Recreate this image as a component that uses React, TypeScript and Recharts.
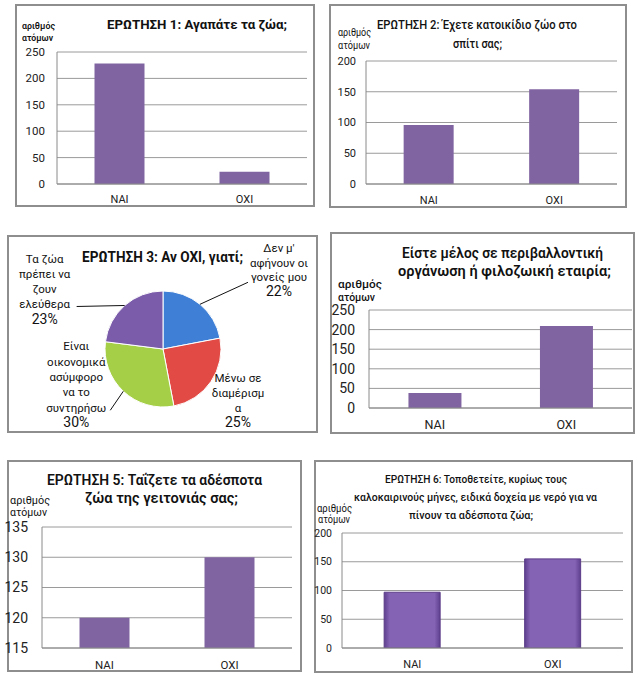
import React from 'react';
import { BarChart, Bar, XAxis, YAxis, CartesianGrid, PieChart, Pie, Cell } from 'recharts';

const FONT = "Roboto, 'Noto Sans', sans-serif";

// ---------- data ----------
const categories = ['ΝΑΙ', 'ΟΧΙ'];
const q1Values = [228, 23];
const q2Values = [96, 154];
const q4Values = [38, 209];
const q5Values = [120, 130];
const q6Values = [97, 155];

const ticks0to250 = [0, 50, 100, 150, 200, 250];
const ticks0to200 = [0, 50, 100, 150, 200];
const ticks115to135 = [115, 120, 125, 130, 135];

const q3Reasons = [
  "Δεν μ' αφήνουν οι γονείς μου",
  'Μένω σε διαμέρισμα',
  'Είναι οικονομικά ασύμφορο να το συντηρήσω',
  'Τα ζώα πρέπει να ζουν ελεύθερα',
];
const q3Percents = [22, 25, 30, 23];
const q3LabelLines = [
  ["Δεν μ'", 'αφήνουν οι', 'γονείς μου'],
  ['Μένω σε', 'διαμέρισμ', 'α'],
  ['Είναι', 'οικονομικά', 'ασύμφορο', 'να το', 'συντηρήσω'],
  ['Τα ζώα', 'πρέπει να', 'ζουν', 'ελεύθερα'],
];
const q3Colors = ['#3f80d6', '#e24a45', '#a6cf48', '#7b5cab'];

const yLabelLines = ['αριθμός', 'ατόμων'];
const title1 = ['ΕΡΩΤΗΣΗ 1: Αγαπάτε τα ζώα;'];
const title2 = ['ΕΡΩΤΗΣΗ 2: Έχετε κατοικίδιο ζώο στο', 'σπίτι σας;'];
const title3 = ['ΕΡΩΤΗΣΗ 3: Αν ΟΧΙ, γιατί;'];
const title4 = ['Είστε μέλος σε περιβαλλοντική', 'οργάνωση ή φιλοζωική εταιρία;'];
const title5 = ['ΕΡΩΤΗΣΗ 5: Ταΐζετε τα αδέσποτα', 'ζώα της γειτονιάς σας;'];
const title6 = [
  'ΕΡΩΤΗΣΗ 6: Τοποθετείτε, κυρίως τους',
  'καλοκαιρινούς μήνες, ειδικά δοχεία με νερό για να',
  'πίνουν τα αδέσποτα ζώα;',
];

// ---------- layout ----------
type Box = { x: number; y: number; w: number; h: number };
type Plot = { l: number; t: number; r: number; b: number };

const BORDER = '2px solid #8e8e8e';
const BAR = '#8064a2';

function Frame({ box }: { box: Box }) {
  return (
    <div
      style={{
        position: 'absolute',
        left: box.x,
        top: box.y,
        width: box.w,
        height: box.h,
        border: BORDER,
        boxSizing: 'border-box',
        background: '#fff',
      }}
    />
  );
}

function BarPanel(props: {
  id: string;
  box: Box;
  plot: Plot;
  values: number[];
  ticks: number[];
  tickFont: number;
  tickGap: number;
  catFont: number;
  catGap: number;
  fancy?: boolean;
}) {
  const { id, box, plot, values, ticks, tickFont, tickGap, catFont, catGap, fancy } = props;
  const data = categories.map((c, i) => ({ name: c, value: values[i] }));
  const pad = 14;
  const cx = box.x - pad;
  const cw = box.w + pad;
  const margin = { top: plot.t - box.y, right: box.x + box.w - plot.r, left: 0, bottom: 0 };
  const xAxisH = box.y + box.h - plot.b;
  return (
    <div style={{ position: 'absolute', left: cx, top: box.y }}>
      <BarChart width={cw} height={box.h} data={data} margin={margin} barCategoryGap="30%">
        {fancy && (
          <defs>
            <linearGradient id={id + 'g'} x1="0" y1="0" x2="1" y2="0">
              <stop offset="0%" stopColor="#5e3f8e" />
              <stop offset="10%" stopColor="#8462b4" />
              <stop offset="90%" stopColor="#8462b4" />
              <stop offset="100%" stopColor="#5e3f8e" />
            </linearGradient>
          </defs>
        )}
        <CartesianGrid vertical={false} stroke="#9a9a9a" />
        <XAxis
          dataKey="name"
          height={xAxisH}
          axisLine={{ stroke: '#8a8a8a' }}
          tickLine={false}
          tickSize={0}
          tickMargin={catGap}
          interval={0}
          tick={{ fontSize: catFont, fill: '#222', fontFamily: FONT }}
        />
        <YAxis
          type="number"
          width={plot.l - cx}
          domain={[ticks[0], ticks[ticks.length - 1]]}
          ticks={ticks}
          interval={0}
          allowDataOverflow
          axisLine={{ stroke: '#8a8a8a' }}
          tickLine={false}
          tickSize={0}
          tickMargin={tickGap}
          tick={{ fontSize: tickFont, fill: '#222', fontFamily: FONT }}
        />
        <Bar
          dataKey="value"
          fill={fancy ? `url(#${id}g)` : BAR}
          stroke={fancy ? '#5a3c88' : undefined}
          isAnimationActive={false}
        />
      </BarChart>
    </div>
  );
}

// text helper for overlay
function T(props: {
  x: number;
  y: number;
  w?: number;
  size: number;
  weight?: number | string;
  children: string;
}) {
  const { x, y, w, size, weight, children } = props;
  return (
    <text
      x={x}
      y={y}
      fontSize={size}
      fontWeight={weight ?? 400}
      fontFamily={FONT}
      fill="#111"
      textLength={w}
      lengthAdjust={w ? 'spacingAndGlyphs' : undefined}
    >
      {children}
    </text>
  );
}

// pie label layout: offsets relative to the slice's outer-edge point at midAngle
const pieLabelLayout = [
  { dx: 79, dy: -52, step: 14.5, pctGap: 15, lead: [48, -22] },
  { dx: 27, dy: 0, step: 15, pctGap: 15, lead: null },
  { dx: -47, dy: -41, step: 15.4, pctGap: 15.4, lead: [-13, 19] },
  { dx: -80, dy: -42, step: 15, pctGap: 16, lead: [-48, 1] },
];

const RAD = Math.PI / 180;
function renderPieLabel(p: any) {
  const { cx, cy, midAngle, outerRadius, index } = p;
  const ex = cx + outerRadius * Math.cos(-midAngle * RAD);
  const ey = cy + outerRadius * Math.sin(-midAngle * RAD);
  const L = pieLabelLayout[index];
  const lines = q3LabelLines[index];
  const tx = ex + L.dx;
  const ty = ey + L.dy;
  return (
    <g>
      {L.lead && (
        <line x1={ex} y1={ey} x2={ex + L.lead[0]} y2={ey + L.lead[1]} stroke="#111" strokeWidth={1} />
      )}
      {lines.map((t, i) => (
        <text
          key={i}
          x={tx}
          y={ty + i * L.step}
          textAnchor="middle"
          fontSize={11.5}
          fontFamily={FONT}
          fill="#111"
        >
          {t}
        </text>
      ))}
      <text
        x={tx}
        y={ty + (lines.length - 1) * L.step + L.pctGap}
        textAnchor="middle"
        fontSize={14}
        fontFamily={FONT}
        fill="#111"
      >
        {q3Percents[index] + '%'}
      </text>
    </g>
  );
}

const box1: Box = { x: 15, y: 4, w: 300, h: 203 };
const box2: Box = { x: 329, y: 4, w: 298, h: 204 };
const box3: Box = { x: 7, y: 235, w: 311, h: 198 };
const box4: Box = { x: 330, y: 232, w: 305, h: 202 };
const box5: Box = { x: 7, y: 460, w: 295, h: 212 };
const box6: Box = { x: 314, y: 460, w: 319, h: 213 };

export default function App() {
  const pieData = q3Reasons.map((r, i) => ({ name: r, value: q3Percents[i] }));
  return (
    <div
      style={{
        position: 'absolute',
        left: 0,
        top: 0,
        width: 641,
        height: 680,
        background: '#fff',
        overflow: 'hidden',
        fontFamily: FONT,
      }}
    >
      <Frame box={box1} />
      <Frame box={box2} />
      <Frame box={box3} />
      <Frame box={box4} />
      <Frame box={box5} />
      <Frame box={box6} />

      <BarPanel id="q1" box={box1} plot={{ l: 57, t: 52, r: 307, b: 184 }} values={q1Values}
        ticks={ticks0to250} tickFont={11.5} tickGap={12} catFont={11} catGap={11} />
      <BarPanel id="q2" box={box2} plot={{ l: 366, t: 61, r: 617, b: 184 }} values={q2Values}
        ticks={ticks0to200} tickFont={11} tickGap={10} catFont={11} catGap={12} />
      <BarPanel id="q4" box={box4} plot={{ l: 369, t: 310, r: 632, b: 408 }} values={q4Values}
        ticks={ticks0to250} tickFont={14} tickGap={14} catFont={12.5} catGap={12} />
      <BarPanel id="q5" box={box5} plot={{ l: 42, t: 527, r: 292, b: 648 }} values={q5Values}
        ticks={ticks115to135} tickFont={14} tickGap={14} catFont={11.5} catGap={13} />
      <BarPanel id="q6" box={box6} plot={{ l: 342, t: 533, r: 623, b: 648 }} values={q6Values}
        ticks={ticks0to200} tickFont={10.5} tickGap={10} catFont={11} catGap={12} fancy />

      <div style={{ position: 'absolute', left: box3.x, top: box3.y }}>
        <PieChart width={box3.w} height={box3.h} margin={{ top: 0, right: 0, bottom: 0, left: 0 }}>
          <Pie
            data={pieData}
            dataKey="value"
            nameKey="name"
            cx={156}
            cy={114}
            outerRadius={58}
            startAngle={90}
            endAngle={-270}
            stroke="#ffffff"
            strokeWidth={1}
            label={renderPieLabel}
            labelLine={false}
            isAnimationActive={false}
          >
            {pieData.map((d, i) => (
              <Cell key={i} fill={q3Colors[i]} />
            ))}
          </Pie>
        </PieChart>
      </div>

      <svg
        width={641}
        height={680}
        style={{ position: 'absolute', left: 0, top: 0, pointerEvents: 'none' }}
      >
        {/* titles */}
        <T x={107} y={29} w={180} size={13.5} weight={700}>{title1[0]}</T>
        <T x={377} y={29} w={200} size={13.5} weight={500}>{title2[0]}</T>
        <T x={453} y={48} w={49} size={13.5} weight={500}>{title2[1]}</T>
        <T x={82} y={262} w={161} size={14} weight={700}>{title3[0]}</T>
        <T x={402} y={258} w={201} size={14.5} weight={600}>{title4[0]}</T>
        <T x={398} y={276} w={213} size={14.5} weight={600}>{title4[1]}</T>
        <T x={47} y={485} w={215} size={15} weight={600}>{title5[0]}</T>
        <T x={85} y={503} w={153} size={15} weight={600}>{title5[1]}</T>
        <T x={385} y={483} w={182} size={11.5} weight={500}>{title6[0]}</T>
        <T x={354} y={501} w={243} size={11.5} weight={500}>{title6[1]}</T>
        <T x={409} y={519} w={124} size={11.5} weight={500}>{title6[2]}</T>

        {/* y axis labels */}
        <T x={22} y={29} w={33} size={9.5} weight={600}>{yLabelLines[0]}</T>
        <T x={22} y={41} w={31} size={9.5} weight={600}>{yLabelLines[1]}</T>
        <T x={338} y={36} w={33} size={10}>{yLabelLines[0]}</T>
        <T x={338} y={49} w={32} size={10}>{yLabelLines[1]}</T>
        <T x={338} y={288} w={44} size={11} weight={500}>{yLabelLines[0]}</T>
        <T x={338} y={301} w={37} size={11} weight={500}>{yLabelLines[1]}</T>
        <T x={10} y={504} w={40} size={10}>{yLabelLines[0]}</T>
        <T x={10} y={516} w={37} size={10}>{yLabelLines[1]}</T>
        <T x={317} y={512} w={35} size={10}>{yLabelLines[0]}</T>
        <T x={318} y={523} w={32} size={10}>{yLabelLines[1]}</T>
      </svg>
    </div>
  );
}
